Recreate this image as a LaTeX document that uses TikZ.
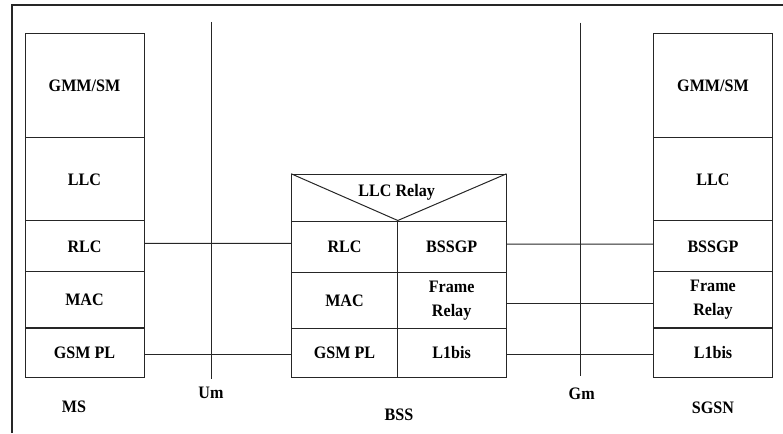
\documentclass[tikz,border=0pt]{standalone}
\usepackage{fontspec}
\setmainfont{Liberation Serif}[FakeStretch=0.92]
\begin{document}
\begin{tikzpicture}[x=1pt,y=-1pt,
  line/.style={draw=black!85,line width=1pt},
  cell/.style={line,rectangle,inner sep=0pt,align=center,
    font=\bfseries\fontsize{17.5}{24}\selectfont},
  lbl/.style={inner sep=0pt,font=\bfseries\fontsize{17.5}{20}\selectfont}]
\useasboundingbox (0,0) rectangle (783,433);
% frame
\coordinate (fbl) at (12,433);
\coordinate (ftl) at (12,5);
\coordinate (ftr) at (783,5);
\draw[draw=black!85,line width=1.6pt] (fbl) -- (ftl) -- (ftr);
% MS stack
\node[cell,minimum width=119pt,minimum height=104.4pt] (msgmm) at (84.5,85.5) {GMM/SM};
\node[cell,minimum width=119pt,minimum height=83.3pt] (msllc) at (84.5,179.3) {LLC};
\node[cell,minimum width=119pt,minimum height=50.7pt] (msrlc) at (84.5,246.3) {RLC};
\node[cell,minimum width=119pt,minimum height=56.3pt] (msmac) at (84.5,299.8) {MAC};
\node[cell,minimum width=119pt,minimum height=49pt] (msgsm) at (84.5,352.5) {GSM PL};
% SGSN stack
\node[cell,minimum width=118.3pt,minimum height=104.4pt] (sggmm) at (713,85.5) {GMM/SM};
\node[cell,minimum width=118.3pt,minimum height=83.3pt] (sgllc) at (713,179.3) {LLC};
\node[cell,minimum width=118.3pt,minimum height=50.7pt] (sgbssgp) at (713,246.3) {BSSGP};
\node[cell,minimum width=118.3pt,minimum height=56.3pt] (sgfr) at (713,299.8) {Frame\\Relay};
\node[cell,minimum width=118.3pt,minimum height=49pt] (sgl1) at (713,352.5) {L1bis};
% BSS
\node[cell,minimum width=214.3pt,minimum height=46.7pt,text depth=0pt] (relay) at (398.85,197.65) {};
\node[lbl] (relaytxt) at (396.7,192.7) {LLC Relay};
\node[cell,minimum width=105.6pt,minimum height=51.3pt] (bssrlc) at (344.5,246.65) {RLC};
\node[cell,minimum width=105.6pt,minimum height=56pt] (bssmac) at (344.5,300.3) {MAC};
\node[cell,minimum width=105.6pt,minimum height=49.4pt] (bssgsm) at (344.5,353) {GSM PL};
\node[cell,minimum width=108.7pt,minimum height=51.3pt] (bssbssgp) at (451.65,246.65) {BSSGP};
\node[cell,minimum width=108.7pt,minimum height=56pt] (bssfr) at (451.65,300.3) {Frame\\Relay};
\node[cell,minimum width=108.7pt,minimum height=49.4pt] (bssl1) at (451.65,353) {L1bis};
\draw[line] (relay.north west) -- (bssrlc.north east) -- (relay.north east);
% interfaces
\coordinate (umtop) at (211.3,22);
\coordinate (umbot) at (211.3,379);
\coordinate (gmtop) at (580,22.7);
\coordinate (gmbot) at (580,376);
\draw[line] (umtop) -- (umbot);
\draw[line] (gmtop) -- (gmbot);
% connectors
\draw[line] ([yshift=3pt]msrlc.east) -- ([yshift=3.3pt]bssrlc.west);
\draw[line] ([yshift=-1.5pt]msgsm.east) -- ([yshift=-1pt]bssgsm.west);
\draw[line] ([yshift=2.6pt]bssbssgp.east) -- ([yshift=2.3pt]sgbssgp.west);
\draw[line] ([yshift=-3pt]bssfr.east) -- ([yshift=-3.5pt]sgfr.west);
\draw[line] ([yshift=-1pt]bssl1.east) -- ([yshift=-1.5pt]sgl1.west);
% labels
\node[lbl] (ms) at (74,406.7) {MS};
\node[lbl] (um) at (211,392.7) {Um};
\node[lbl] (bss) at (399,415) {BSS};
\node[lbl] (gm) at (581.7,394) {Gm};
\node[lbl] (sgsn) at (713,408) {SGSN};
\end{tikzpicture}
\end{document}
